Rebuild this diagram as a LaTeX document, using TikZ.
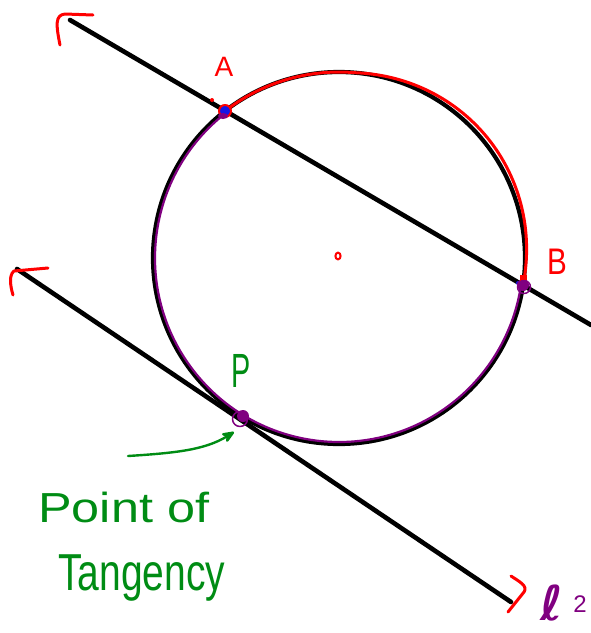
\documentclass[tikz,border=0pt]{standalone}
\usepackage{fontspec}
\setmainfont{Liberation Sans}
\newfontfamily\dejavu{DejaVu Sans}
\usetikzlibrary{arrows.meta}
\definecolor{hred}{RGB}{255,0,0}
\definecolor{hpurple}{RGB}{128,0,128}
\definecolor{hgreen}{RGB}{0,140,20}
\definecolor{hblue}{RGB}{20,20,230}
\begin{document}
\begin{tikzpicture}[x=1pt,y=-1pt,line cap=round,line join=round,
  blackline/.style={line width=4.6pt,black},
  circline/.style={line width=4.2pt,black},
  redmark/.style={line width=3pt,hred},
  purplearc/.style={line width=2.2pt,hpurple},
  redarc/.style={line width=3pt,hred},
  lbl/.style={inner sep=0pt},
  greentext/.style={hgreen,inner sep=0pt,anchor=base west}]
\useasboundingbox (0,0) rectangle (591,633);
% key points
\coordinate (O) at (339,258);
\coordinate (L1s) at (70,20);
\coordinate (L1e) at (591,325);
\coordinate (L2s) at (17,269);
\coordinate (L2e) at (511,602);
\coordinate (A) at (225,111);
\coordinate (B) at (523,285);
\coordinate (P) at (242,417);
% circle and lines
\draw[circline] (O) circle[radius=186];
\draw[blackline] (L1s) -- (L1e);
\draw[blackline] (L2s) -- (L2e);
% coloured arcs (red one bulges slightly outward on the upper right)
\draw[redarc] plot[domain=232.2:368.3,samples=90,smooth]
  ({339+(186+5*sin(1.9293*max(0,\x-275)))*cos(\x)},{258+(186+5*sin(1.9293*max(0,\x-275)))*sin(\x)});
\draw[purplearc] (O) ++(232.2:184) arc[start angle=232.2,end angle=8.3,radius=184];
% hand-drawn arrow marks on the line ends
\draw[redmark] (60,45) .. controls (56,25) and (55,15) .. (65,14) -- (93,15);
\draw[redmark] (13,295) .. controls (10,285) and (9,275) .. (14,271) -- (48,268);
\draw[redmark] (511,576) .. controls (520,582) and (528,586) .. (524,592) -- (508,612);
% point markers
\fill[hred] (212,100) circle[radius=2];
\fill[hblue] (A) circle[radius=5.5];
\draw[hred,line width=2pt] (A) circle[radius=6];
\fill[hpurple] (223,116) ellipse[x radius=5,y radius=3];
\draw[hred,line width=2pt] (O) ++(-1,-2) ellipse[x radius=2.6,y radius=3.4];
\fill[hblue] (518,283) circle[radius=2];
\fill[hpurple] (B) circle[radius=6];
\fill[hred] (520,275) rectangle (527,281);
\draw[hpurple,line width=1.5pt] (524,287) circle[radius=6.5];
\fill[hpurple] (243,416) circle[radius=6];
\draw[hpurple,line width=1.5pt] (240,419) circle[radius=7.5];
% labels
\node[lbl,hred,font=\fontsize{28}{28}\selectfont] (lA) at (224,67) {A};
\node[lbl,hred,font=\fontsize{37}{37}\selectfont,xscale=0.8] (lB) at (557,262) {B};
\node[lbl,hgreen,font=\fontsize{48}{48}\selectfont,xscale=0.6] (lP) at (241,371) {P};
\node[lbl,hpurple,font=\dejavu\bfseries\fontsize{48}{48}\selectfont,anchor=base] (l2a) at (552,620) {ℓ};
\node[lbl,hpurple,font=\fontsize{24}{24}\selectfont,anchor=base] (l2b) at (580,612) {2};
% point of tangency text
\node[greentext,font=\fontsize{42}{42}\selectfont,xscale=1.2] (t1) at (38,522) {Point of};
\node[greentext,font=\fontsize{52}{52}\selectfont,xscale=0.75] (t2) at (58,590) {Tangency};
% green arrow
\coordinate (gtail) at (128,456);
\coordinate (ghead) at (234,432);
\draw[hgreen,line width=2.4pt,-{Stealth[length=16pt,width=13pt,round]}] (gtail) .. controls (175,453) and (205,450) .. (ghead);
\end{tikzpicture}
\end{document}
